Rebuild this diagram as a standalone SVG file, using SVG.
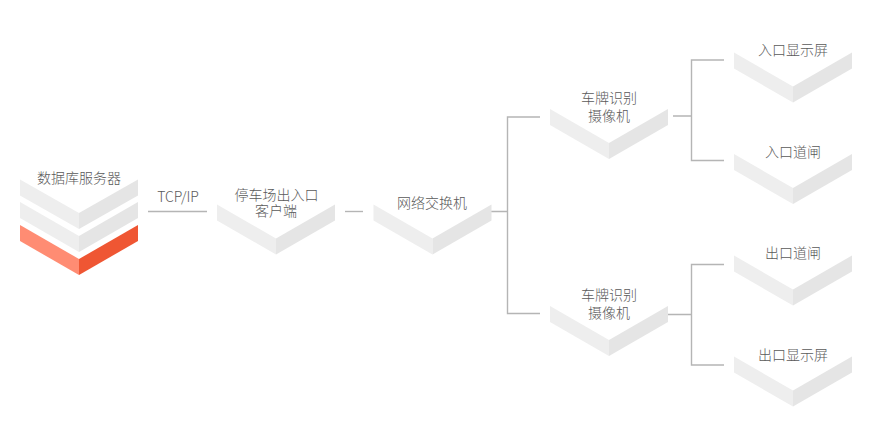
<svg xmlns="http://www.w3.org/2000/svg" width="873" height="425" viewBox="0 0 873 425">
<style>
text{font-family:"Noto Sans CJK SC","Noto Sans",sans-serif;font-size:14px;font-weight:300;fill:#5a5a5a;text-anchor:middle}
.l{fill:#eeeeee}.r{fill:#e5e5e5}
.c{fill:none;stroke:#b5b5b5;stroke-width:1.4}
</style>
<defs>
<g id="chev"><polygon class="l" points="0,0 59,34 59,50 0,16"/><polygon class="r" points="59,34 118,0 118,16 59,50"/></g>
</defs>
<rect width="873" height="425" fill="#fff"/>
<g id="connectors">
<path class="c" d="M148 211.500H207"/>
<path class="c" d="M345 211.500H363"/>
<path class="c" d="M491 211.500H507.500M540 117H507.500V313.500H540"/>
<path class="c" d="M673 116H691.500M724 60H691.500V160.500H724"/>
<path class="c" d="M668 314.500H691.500M724 264.500H691.500V365H724"/>
</g>
<g id="db">
<use href="#chev" x="20" y="202"/>
<polygon class="l" points="20,179.500 79,213 79,229 20,195.500"/><polygon class="r" points="79,213 138,179.500 138,195.500 79,229"/>
<polygon points="20,225 79,259 79,275 20,241" fill="#ff8c73"/><polygon points="79,259 138,225 138,241 79,275" fill="#ef5633"/>
<text x="79" y="183">数据库服务器</text>
</g>
<g id="link-label"><text x="178" y="202">TCP/IP</text></g>
<g id="client"><use href="#chev" x="217" y="204.500"/><text x="276.500" y="200">停车场出入口<tspan x="276" y="216">客户端</tspan></text></g>
<g id="switch"><use href="#chev" x="373.500" y="204.500"/><text x="432" y="208">网络交换机</text></g>
<g id="cam1"><use href="#chev" x="550" y="109"/><text x="609" y="103">车牌识别<tspan x="609" y="121">摄像机</tspan></text></g>
<g id="cam2"><use href="#chev" x="550" y="306"/><text x="609" y="300">车牌识别<tspan x="609" y="318">摄像机</tspan></text></g>
<g id="in-display"><use href="#chev" x="734" y="52.500"/><text x="793" y="55">入口显示屏</text></g>
<g id="in-gate"><use href="#chev" x="734" y="154"/><text x="793" y="157">入口道闸</text></g>
<g id="out-gate"><use href="#chev" x="734" y="255.500"/><text x="793" y="258">出口道闸</text></g>
<g id="out-display"><use href="#chev" x="734" y="356.500"/><text x="793" y="360">出口显示屏</text></g>
</svg>
